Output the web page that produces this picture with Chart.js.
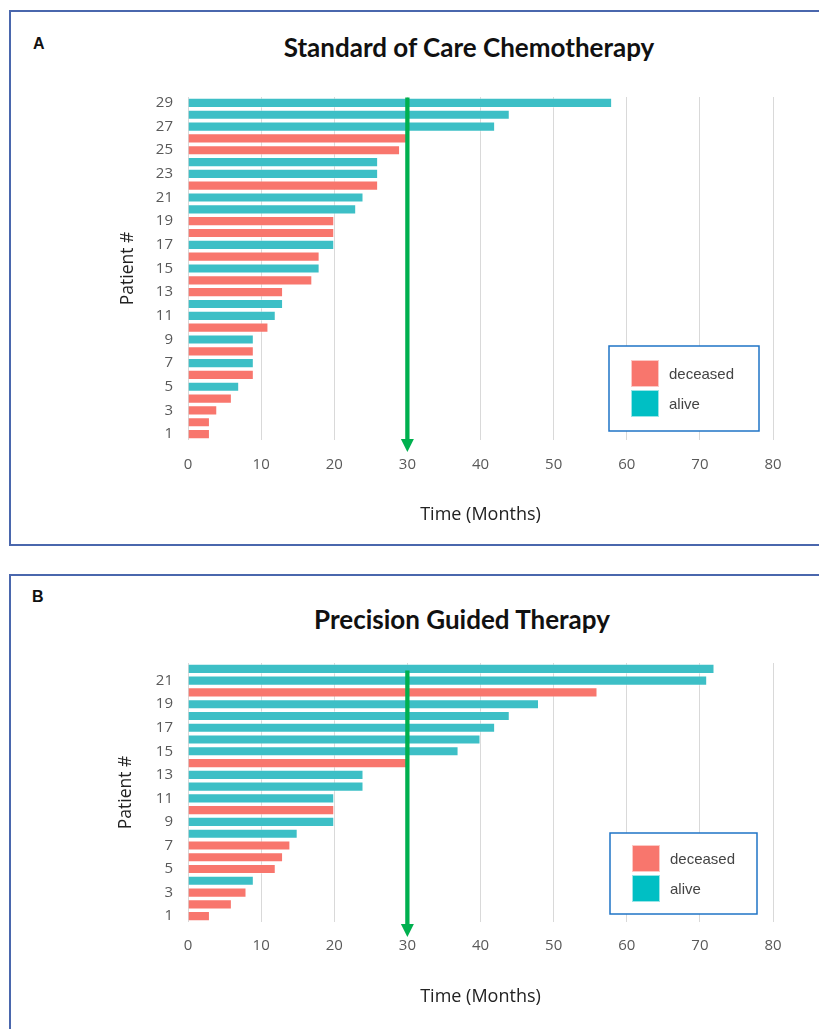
<!DOCTYPE html>
<html>
<head>
<meta charset="utf-8">
<script src="https://cdn.jsdelivr.net/npm/chart.js"></script>
<style>
  html,body{margin:0;padding:0;background:#fff;}
  body{width:819px;height:1029px;position:relative;overflow:hidden;font-family:"Liberation Sans",Arial,sans-serif;}
  .panel{position:absolute;left:9px;width:840px;border:2px solid #4a67ad;box-sizing:border-box;}
  .tag{position:absolute;font:bold 16px "Liberation Sans",Arial,sans-serif;color:#111;}
  .ttl{position:absolute;transform:translateX(-50%);white-space:nowrap;font:bold 26px Lato,"Open Sans",sans-serif;line-height:30px;color:#111;}
  canvas{position:absolute;left:0;}
</style>
</head>
<body>
<div class="panel" style="top:10px;height:536px"></div>
<div class="panel" style="top:574px;height:480px"></div>
<div class="tag" style="left:33px;top:35px">A</div>
<div class="tag" style="left:32px;top:588px">B</div>
<div class="ttl" style="left:469px;top:32px">Standard of Care Chemotherapy</div>
<div class="ttl" style="left:462px;top:604px">Precision Guided Therapy</div>
<canvas id="chartA" width="819" height="480" style="top:60px"></canvas>
<canvas id="chartB" width="819" height="392" style="top:630px"></canvas>
<script>
/* ── 데이터 (환자 1번부터) ── */
const monthsA = [3,3,4,6,7,9,9,9,9,11,12,13,13,17,18,18,20,20,20,23,24,26,26,26,29,30,42,44,58];
const statusA = ['d','d','d','d','a','d','a','d','a','d','a','a','d','d','a','d','a','d','d','a','a','d','a','a','d','d','a','a','a'];
const monthsB = [3,6,8,9,12,13,14,15,20,20,20,24,24,30,37,40,42,44,48,56,71,72];
const statusB = ['d','d','d','a','d','d','d','a','a','d','a','a','a','d','a','a','a','a','a','d','a','a'];
const xTicks  = [0,10,20,30,40,50,60,70,80];
const cutoff  = 30;
const legendLabels = ['deceased','alive'];

const RED='#f8766d', TEAL='#3dbfc6', LEG_TEAL='#00bfc4';

/* ── 30개월 화살표 ── */
const arrowPlugin = {
  id:'cutArrow',
  afterDatasetsDraw(chart, args, o){
    const {ctx, chartArea} = chart;
    const x   = chart.scales.x.getPixelForValue(o.value);
    const top = chartArea.top + o.topOff;
    const tip = chartArea.bottom + o.tipOff;
    ctx.save();
    ctx.strokeStyle='#00b04f'; ctx.fillStyle='#00b04f'; ctx.lineWidth=4.3;
    ctx.beginPath(); ctx.moveTo(x,top); ctx.lineTo(x,tip-10); ctx.stroke();
    ctx.beginPath(); ctx.moveTo(x-6.5,tip-13); ctx.lineTo(x+6.5,tip-13); ctx.lineTo(x,tip); ctx.closePath(); ctx.fill();
    ctx.restore();
  }
};

/* ── 박스 범례 ── */
const boxLegendPlugin = {
  id:'boxLegend',
  afterDraw(chart, args, o){
    const {ctx, chartArea} = chart;
    const bx = chartArea.right - o.right - o.w, by = chartArea.bottom - o.bottom - o.h;
    ctx.save();
    ctx.fillStyle='#fff'; ctx.fillRect(bx,by,o.w,o.h);
    ctx.strokeStyle='#1f74c6'; ctx.lineWidth=1.5; ctx.strokeRect(bx,by,o.w,o.h);
    const sq=27, gap=3, sy=by+(o.h-2*sq-gap)/2;
    [RED, LEG_TEAL].forEach((c,i)=>{
      const y=sy+i*(sq+gap);
      ctx.fillStyle=c; ctx.fillRect(bx+22,y,28,sq);
      ctx.strokeStyle='rgba(255,255,255,.6)'; ctx.lineWidth=1; ctx.strokeRect(bx+22.5,y+.5,27,sq-1);
      ctx.fillStyle='#444'; ctx.font='15px "Liberation Sans", Arial, sans-serif'; ctx.textBaseline='middle';
      ctx.fillText(legendLabels[i], bx+60, y+sq/2+1);
    });
    ctx.restore();
  }
};

function makeChart(id, months, status, cfg){
  const labels = months.map((_,i)=>String(i+1));
  return new Chart(document.getElementById(id),{
    type:'bar',
    data:{labels, datasets:[{
      data:months,
      backgroundColor:status.map(s=>s==='d'?RED:TEAL),
      borderColor:'rgba(255,255,255,.35)', borderWidth:1,
      categoryPercentage:1, barPercentage:0.86
    }]},
    options:{
      indexAxis:'y', responsive:false, animation:false,
      layout:{padding:{left:100, right:46, top:cfg.padTop, bottom:0}},
      plugins:{
        legend:{display:false}, tooltip:{enabled:false},
        cutArrow:{value:cutoff, topOff:cfg.arrowTop, tipOff:cfg.arrowTip},
        boxLegend:cfg.legend
      },
      scales:{
        x:{
          min:0, max:80,
          afterBuildTicks:s=>{ s.ticks = xTicks.map(v=>({value:v})); },
          afterFit:s=>{ s.height=100; },
          grid:{color:'#d9d9d9', drawTicks:false},
          border:{display:false},
          ticks:{padding:cfg.xPad, color:'#595959', font:{family:'"Open Sans"', size:15}},
          title:{display:true, text:'Time (Months)', color:'#222', font:{family:'"Open Sans"', size:18}, padding:{bottom:14}}
        },
        y:{
          reverse:true,
          afterFit:s=>{ s.width=88; },
          grid:{display:false, drawTicks:false},
          border:{display:false},
          ticks:{autoSkip:false, padding:15, color:'#595959', font:{family:'"Open Sans"', size:15},
            callback(v){ const l=this.getLabelForValue(v); return (+l)%2===1 ? l : ''; }},
          title:{display:true, text:'Patient #', color:'#222', font:{family:'"Open Sans"', size:17.5}, padding:{top:cfg.yTitlePad}}
        }
      }
    },
    plugins:[arrowPlugin, boxLegendPlugin]
  });
}

makeChart('chartA', monthsA, statusA, {
  padTop:37, xPad:16, yTitlePad:17.5, arrowTop:0.5, arrowTip:12,
  legend:{right:14, bottom:9, w:150, h:85}
});
makeChart('chartB', monthsB, statusB, {
  padTop:33, xPad:14.7, yTitlePad:15.5, arrowTop:7.6, arrowTip:15,
  legend:{right:16, bottom:8, w:147, h:81}
});
</script>
</body>
</html>
